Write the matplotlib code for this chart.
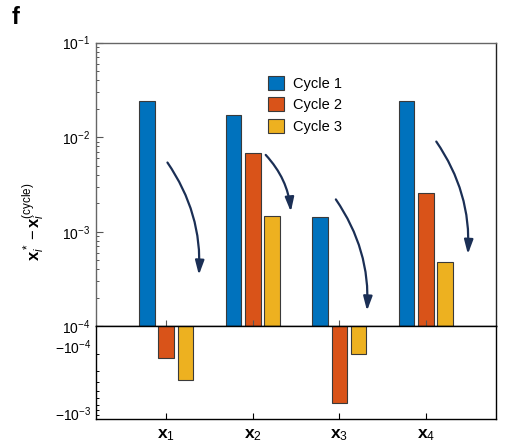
import matplotlib

matplotlib.use("Agg")
import matplotlib.pyplot as plt
import numpy as np
from matplotlib.ticker import LogLocator, NullFormatter, NullLocator

plt.rcParams["font.family"] = ["Liberation Sans", "DejaVu Sans"]
plt.rcParams["mathtext.fontset"] = "custom"
plt.rcParams["mathtext.rm"] = "Liberation Sans"
plt.rcParams["mathtext.it"] = "Liberation Sans:italic"
plt.rcParams["mathtext.bf"] = "Liberation Sans:bold"

# ---- data --------------------------------------------------------------
variables = ["1", "2", "3", "4"]
cycles = ["Cycle 1", "Cycle 2", "Cycle 3"]
cycle1 = [2.4e-2, 1.72e-2, 1.42e-3, 2.43e-2]
cycle2 = [-2.18e-4, 6.86e-3, -6.7e-4, 2.55e-3]
cycle3 = [-3.8e-4, 1.47e-3, -2.0e-4, 4.8e-4]
colors = ["#0072BD", "#D95319", "#EDB120"]

# curved arrows: (start offset, start y, end offset, end y) relative to each group
arrow_start_dx = [0.015, 0.15, -0.04, 0.12]
arrow_start_y = [5.4e-3, 6.5e-3, 2.2e-3, 9.0e-3]
arrow_end_dx = [0.378, 0.44, 0.32, 0.485]
arrow_end_y = [3.5e-4, 1.63e-3, 1.46e-4, 5.8e-4]

series = [cycle1, cycle2, cycle3]
x = np.arange(1, len(variables) + 1)
width = 0.18
offsets = [-0.223, 0.0, 0.223]

fig = plt.figure(figsize=(5.11, 4.44), dpi=100)
ax = fig.add_axes([0.1879, 0.265, 0.7828, 0.6389])
axb = fig.add_axes([0.1879, 0.0563, 0.7828, 0.2088])

for vals, off, col, name in zip(series, offsets, colors, cycles):
    vals = np.asarray(vals)
    pos = vals > 0
    ax.bar(x[pos] + off, vals[pos] - 1e-4, width, bottom=1e-4, color=col,
           edgecolor="#3a3a3a", linewidth=0.8, label=name)
    neg = ~pos
    axb.bar(x[neg] + off, -vals[neg] - 1e-4, width, bottom=1e-4, color=col,
            edgecolor="#3a3a3a", linewidth=0.8)

# ---- top (positive) axis ----------------------------------------------
ax.set_yscale("log")
ax.set_ylim(1e-4, 1e-1)
ax.set_xlim(0.19, 4.81)
ax.set_yticks([1e-4, 1e-3, 1e-2, 1e-1])
ax.set_yticklabels([r"$10^{-4}$", r"$10^{-3}$", r"$10^{-2}$", r"$10^{-1}$"])
ax.yaxis.set_minor_locator(LogLocator(base=10, subs=np.arange(2, 10)))
ax.yaxis.set_minor_formatter(NullFormatter())
ax.set_xticks(x)
ax.set_xticklabels([])
ax.tick_params(axis="y", which="major", direction="in", length=5, width=0.8,
               labelsize=10, pad=4, color="#555555")
ax.tick_params(axis="y", which="minor", direction="in", length=2.5, width=0.7,
               color="#555555")
ax.tick_params(axis="x", direction="in", length=4, width=0.8, color="#555555")
for s in ("top", "left"):
    ax.spines[s].set_color("#666666")
ax.spines["right"].set_color("#222222")
ax.spines["bottom"].set_color("black")
for s in ax.spines.values():
    s.set_linewidth(1.0)

# ---- bottom (negative) axis -------------------------------------------
axb.set_yscale("log")
axb.set_ylim(1e-3, 1e-4)
axb.set_xlim(0.19, 4.81)
axb.yaxis.set_major_locator(NullLocator())
axb.yaxis.set_minor_locator(LogLocator(base=10, subs=np.arange(2, 10)))
axb.yaxis.set_minor_formatter(NullFormatter())
axb.tick_params(axis="y", which="minor", direction="in", length=2.5, width=0.7)
axb.set_xticks(x)
axb.set_xticklabels([r"$\mathbf{x}_{\mathrm{%s}}$" % v for v in variables])
axb.tick_params(axis="x", direction="in", length=4, width=0.8, labelsize=12.5, pad=6)
for s in axb.spines.values():
    s.set_color("black")
    s.set_linewidth(1.0)
axb.text(-0.012, 0.77, r"$-10^{-4}$", transform=axb.transAxes, ha="right",
         va="center", fontsize=10)
axb.text(-0.012, 0.05, r"$-10^{-3}$", transform=axb.transAxes, ha="right",
         va="center", fontsize=10)

# ---- arrows -------------------------------------------------------------
for xi, sdx, sy, edx, ey in zip(x, arrow_start_dx, arrow_start_y, arrow_end_dx, arrow_end_y):
    ax.annotate("", xy=(xi + edx, ey), xytext=(xi + sdx, sy),
                arrowprops=dict(arrowstyle="-|>,head_length=0.7,head_width=0.22",
                                connectionstyle="arc3,rad=-0.17", color="#1B2F55",
                                lw=1.6, shrinkA=0, shrinkB=0, mutation_scale=12))

ax.legend(loc="upper left", bbox_to_anchor=(0.398, 0.93), frameon=False,
          fontsize=10.5, handlelength=1.1, handleheight=1.1, labelspacing=0.45,
          handletextpad=0.6)

fig.text(0.066, 0.5, r"$\mathbf{x}_i^* - \mathbf{x}_i^{(\mathrm{cycle})}$",
         rotation=90, ha="center", va="center", fontsize=12)
fig.text(0.022, 0.96, "f", fontsize=17, fontweight="bold", ha="left", va="center")

fig.savefig("out.png", dpi=100)
